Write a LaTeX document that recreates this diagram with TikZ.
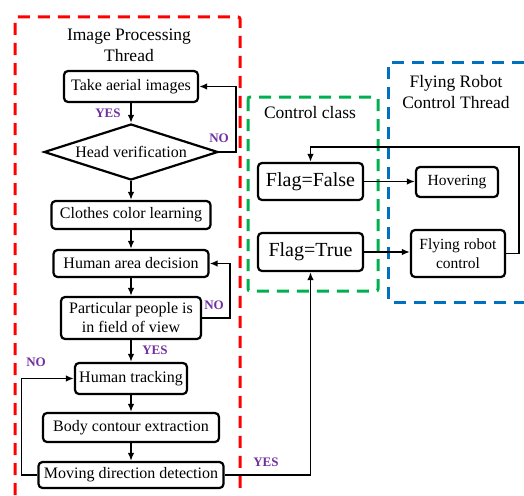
\documentclass[tikz,border=0pt]{standalone}
\usepackage{fontspec}
\setmainfont{Liberation Serif}
\usetikzlibrary{shapes.geometric,arrows.meta}
\definecolor{lblpurple}{RGB}{112,48,160}
\definecolor{dred}{RGB}{255,0,0}
\definecolor{dgreen}{RGB}{0,176,80}
\definecolor{dblue}{RGB}{0,112,192}
\tikzset{
  procbox/.style={draw, line width=2.2pt, rounded corners=4pt, inner sep=0pt, align=center, font=\fontsize{16}{19}\selectfont},
  flagbox/.style={procbox, font=\fontsize{20}{24}\selectfont},
  robotbox/.style={procbox, font=\fontsize{15.5}{19}\selectfont},
  conn/.style={line width=1.8pt, -{Latex[length=8pt,width=6.5pt]}},
  lbl/.style={text=lblpurple, font=\fontsize{13}{15}\selectfont\bfseries, inner sep=0pt},
  titletext/.style={font=\fontsize{17.5}{21}\selectfont, align=center, inner sep=0pt},
  dashbox/.style={line width=3pt, dash pattern=on 12pt off 8pt, rounded corners=2pt}
}
\begin{document}
\begin{tikzpicture}[x=1pt,y=-1pt]
\useasboundingbox (0,0) rectangle (524,495);
% dashed group frames
\draw[dashbox, dred] (15,495) -- (15,17) -- (240,17) -- (240,495);
\draw[dashbox, dgreen] (248,97) rectangle (378,291);
\draw[dashbox, dblue] (524,62) -- (388,62) -- (388,302) -- (524,302);
% titles
\node[titletext] (tip) at (129,45.5) {Image Processing\\Thread};
\node[titletext] (tcc) at (310,113) {Control class};
\node[titletext] (tfr) at (456,92.5) {Flying Robot\\Control Thread};
% image processing thread
\node[procbox, minimum width=134pt, minimum height=31pt] (take) at (131,86.5) {Take aerial images};
\node[draw, diamond, line width=2.2pt, minimum width=174pt, minimum height=56pt, aspect=3.1, inner sep=0pt, font=\fontsize{16}{19}\selectfont] (head) at (131,152) {Head verification};
\node[procbox, minimum width=159pt, minimum height=28pt] (clothes) at (131,215) {Clothes color learning};
\node[procbox, minimum width=155pt, minimum height=27pt] (area) at (131,263.5) {Human area decision};
\node[procbox, minimum width=140pt, minimum height=42pt] (particular) at (131,318) {Particular people is\\in field of view};
\node[procbox, minimum width=112pt, minimum height=31pt] (tracking) at (131,378.5) {Human tracking};
\node[procbox, minimum width=176pt, minimum height=29pt] (body) at (131,427.5) {Body contour extraction};
\node[procbox, minimum width=185pt, minimum height=26pt] (moving) at (131,475) {Moving direction detection};
% control class
\node[flagbox, minimum width=105pt, minimum height=37pt] (ffalse) at (310.5,181.5) {Flag=False};
\node[flagbox, minimum width=105pt, minimum height=38pt] (ftrue) at (310.5,252) {Flag=True};
% flying robot control thread
\node[robotbox, minimum width=82pt, minimum height=30pt] (hover) at (457,182) {Hovering};
\node[robotbox, minimum width=94pt, minimum height=47pt] (frc) at (458,253.5) {Flying robot\\control};
\coordinate (toploop) at (310.5,147);
% connectors
\draw[conn] (take) -- (head);
\draw[conn] (head) -- (clothes);
\draw[conn] (clothes) -- (area);
\draw[conn] (area) -- (particular);
\draw[conn] (particular) -- (tracking);
\draw[conn] (tracking) -- (body);
\draw[conn] (body) -- (moving);
\draw[conn] (head.east) -- ++(17,0) |- (take.east);
\draw[conn] (particular.east) -- ++(28,0) |- (area.east);
\draw[conn] (moving.west) -- ++(-16,0) |- (tracking.west);
\draw[conn] (moving.east) -| (ftrue.south);
\draw[conn] (ffalse.east) -- (ffalse.east -| hover.west);
\draw[conn] (ftrue.east) -- (ftrue.east -| frc.west);
\draw[conn] (frc.east) -- ++(13,0) |- (toploop) -- (ffalse.north);
% labels
\node[lbl] (l1) at (108,113) {YES};
\node[lbl] (l2) at (219,138) {NO};
\node[lbl] (l3) at (214,305) {NO};
\node[lbl] (l4) at (155,350) {YES};
\node[lbl] (l5) at (36,362) {NO};
\node[lbl] (l6) at (266,462) {YES};
\end{tikzpicture}
\end{document}
